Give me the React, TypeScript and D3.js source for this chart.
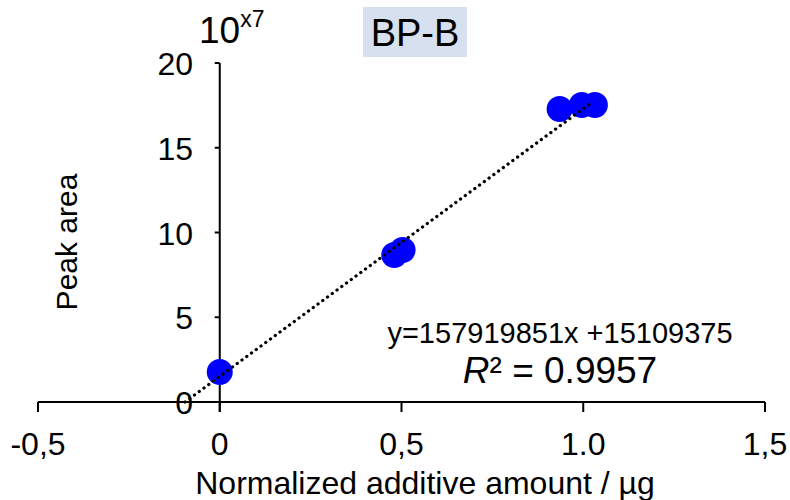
import React from "react";
import * as d3 from "d3";

const xTicks = [-0.5, 0, 0.5, 1.0, 1.5];
const xTickLabels = ["-0,5", "0", "0,5", "1.0", "1,5"];
const yTicks = [0, 5, 10, 15, 20];
const yTickLabels = ["0", "5", "10", "15", "20"];
const pointsX = [0, 0.48, 0.503, 0.935, 0.996, 1.032];
const pointsY = [1.77, 8.67, 8.97, 17.29, 17.52, 17.52];
const slope = 15.7919851;
const intercept = 1.5109375;
const trendRange = [-0.0957, 1.02];
const title = "BP-B";
const equation = "y=157919851x +15109375";

export default function App() {
  const W = 790, H = 500;
  const x = d3.scaleLinear().domain([-0.5, 1.5]).range([38, 765]);
  const y = d3.scaleLinear().domain([0, 20]).range([402, 63]);
  const font = "'Liberation Sans', Arial, sans-serif";
  const line = d3.line<number>().x((d) => x(d)).y((d) => y(slope * d + intercept));
  return (
    <svg width={W} height={H} style={{ position: "absolute", left: 0, top: 0, background: "#fff" }} fontFamily={font}>
      {/* x axis */}
      <line x1={x(-0.5)} x2={x(1.5)} y1={y(0)} y2={y(0)} stroke="#000" strokeWidth={2} />
      {xTicks.map((t, i) => (
        <g key={"xt" + i}>
          <line x1={x(t)} x2={x(t)} y1={y(0)} y2={y(0) + 10} stroke="#000" strokeWidth={2} />
          <text x={x(t)} y={455} textAnchor="middle" fontSize={32} fill="#000">{xTickLabels[i]}</text>
        </g>
      ))}
      {/* y axis */}
      <line x1={x(0)} x2={x(0)} y1={y(20)} y2={y(0) + 10} stroke="#000" strokeWidth={2} />
      {yTicks.map((t, i) => (
        <g key={"yt" + i}>
          <line x1={x(0) - 5} x2={x(0)} y1={y(t)} y2={y(t)} stroke="#000" strokeWidth={2} />
          <text x={193} y={y(t) + 12} textAnchor="end" fontSize={32} fill="#000">{yTickLabels[i]}</text>
        </g>
      ))}
      <text x={199} y={43} fontSize={37} fill="#000">10<tspan fontSize={23} dy={-16}>x7</tspan></text>
      {/* title */}
      <rect x={363} y={7} width={104} height={50} fill="#D6E0EE" />
      <text x={415} y={46} textAnchor="middle" fontSize={38} fill="#000">{title}</text>
      {/* points */}
      {pointsX.map((px, i) => (
        <circle key={"p" + i} cx={x(px)} cy={y(pointsY[i])} r={13} fill="#0000FF" />
      ))}
      {/* trendline over points */}
      <path d={line(trendRange) || ""} stroke="#000" strokeWidth={3.2} strokeDasharray="0.1 5.8" strokeLinecap="round" fill="none" />
      {/* equation */}
      <text x={560} y={343} textAnchor="middle" fontSize={29} fill="#000">{equation}</text>
      <text x={560} y={383} textAnchor="middle" fontSize={37} fill="#000"><tspan fontStyle="italic">R</tspan>² = 0.9957</text>
      {/* axis labels */}
      <text transform={`translate(77,242) rotate(-90)`} textAnchor="middle" fontSize={30} fill="#000">Peak area</text>
      <text x={425} y={494} textAnchor="middle" fontSize={32} fill="#000">Normalized additive amount / µg</text>
    </svg>
  );
}
